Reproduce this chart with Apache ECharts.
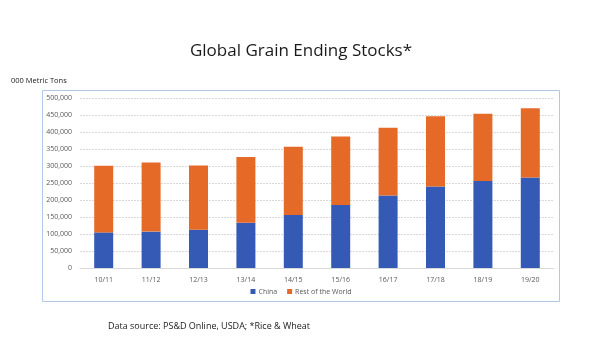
<!DOCTYPE html>
<html><head><meta charset="utf-8">
<script src="https://cdn.jsdelivr.net/npm/echarts@6/dist/echarts.min.js"></script>
<style>html,body{margin:0;padding:0;background:#fff}#c{width:602px;height:338px}</style>
</head><body><div id="c"></div>
<script>
const categories = ['10/11','11/12','12/13','13/14','14/15','15/16','16/17','17/18','18/19','19/20'];
const china = [104700, 107000, 112600, 133000, 156000, 185000, 213500, 240000, 256000, 266500];
const restOfWorld = [196300, 203600, 189200, 193500, 200800, 202000, 199100, 206000, 198000, 203000];
const yTicks = [0, 50000, 100000, 150000, 200000, 250000, 300000, 350000, 400000, 450000, 500000];

const chart = echarts.init(document.getElementById('c'), null, {renderer: 'canvas'});
const font = 'Open Sans, Noto Sans, sans-serif';
chart.setOption({
  animation: false,
  backgroundColor: '#fff',
  title: [
    {text: 'Global Grain Ending Stocks*', left: 'center', top: 38,
     textStyle: {fontFamily: font, fontSize: 17, fontWeight: 'normal', color: '#1a1a1a'}},
    {text: '000 Metric Tons', left: 6, top: 72,
     textStyle: {fontFamily: font, fontSize: 7.5, fontWeight: 'normal', color: '#1a1a1a'}},
    {text: 'Data source: PS&D Online, USDA; *Rice & Wheat', left: 103, top: 317,
     textStyle: {fontFamily: font, fontSize: 9, fontWeight: 'normal', color: '#1a1a1a'}}
  ],
  graphic: [{type: 'rect', shape: {x: 42.5, y: 90.5, width: 517, height: 211},
    style: {fill: 'none', stroke: '#b4c7e7', lineWidth: 1}, silent: true, z: -1}],
  grid: {left: 80, right: 48, top: 98, bottom: 70, containLabel: false},
  legend: {bottom: 38, left: 'center', itemWidth: 5, itemHeight: 5, itemGap: 10, icon: 'rect',
    textStyle: {fontFamily: font, fontSize: 7, color: '#595959', padding: [0,0,0,-2]},
    data: ['China', 'Rest of the World']},
  xAxis: {type: 'category', data: categories,
    axisLine: {show: true, lineStyle: {color: '#d9d9d9'}}, axisTick: {show: false},
    axisLabel: {fontFamily: font, fontSize: 7, color: '#595959', margin: 8}},
  yAxis: {type: 'value', min: 0, max: 500000, interval: 50000,
    axisLine: {show: false}, axisTick: {show: false},
    splitLine: {lineStyle: {color: '#d9d9d9', type: [2, 1]}},
    axisLabel: {fontFamily: font, fontSize: 7, color: '#595959', margin: 8,
      formatter: v => yTicks.includes(v) ? v.toLocaleString('en-US') : ''}},
  series: [
    {name: 'China', type: 'bar', stack: 's', data: china, barWidth: 19,
     itemStyle: {color: '#355ab6'}},
    {name: 'Rest of the World', type: 'bar', stack: 's', data: restOfWorld, barWidth: 19,
     itemStyle: {color: '#e56a28'}}
  ]
});
</script></body></html>
